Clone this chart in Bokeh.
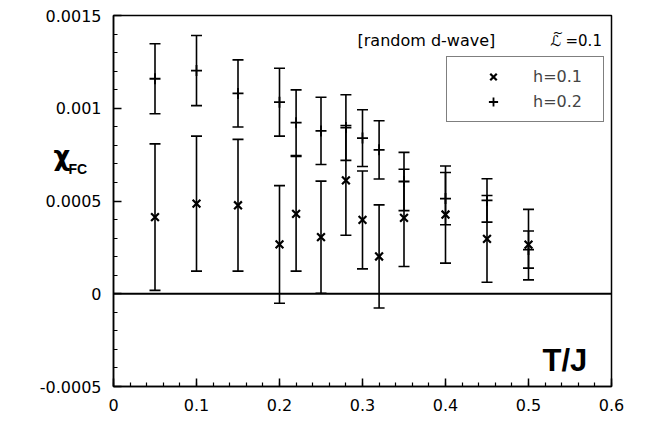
from bokeh.plotting import figure
from bokeh.models import (FixedTicker, Whisker, TeeHead, ColumnDataSource, Label,
                          Legend, LegendItem, Span, Range1d)
from bokeh.embed import file_html
from bokeh.resources import INLINE

# ---- data ----
T = [0.05, 0.1, 0.15, 0.2, 0.22, 0.25, 0.28, 0.3, 0.32, 0.35, 0.4, 0.45, 0.5]
chi_h01 = [0.000413, 0.000486, 0.000477, 0.000266, 0.000431, 0.000305, 0.000611,
           0.000398, 0.000201, 0.000409, 0.000427, 0.000296, 0.000265]
err_h01 = [0.000395, 0.000364, 0.000355, 0.000317, 0.000309, 0.000302, 0.000296,
           0.000264, 0.000278, 0.000262, 0.000262, 0.000234, 0.000190]
chi_h02 = [0.001159, 0.001203, 0.001080, 0.001033, 0.000922, 0.000878, 0.000896,
           0.000839, 0.000776, 0.000605, 0.000513, 0.000503, 0.000238]
err_h02 = [0.000189, 0.000189, 0.000181, 0.000183, 0.000177, 0.000181, 0.000177,
           0.000153, 0.000157, 0.000157, 0.000141, 0.000117, 0.000100]

x_ticks = [0, 0.1, 0.2, 0.3, 0.4, 0.5, 0.6]
x_tick_labels = ["0", "0.1", "0.2", "0.3", "0.4", "0.5", "0.6"]
y_ticks = [-0.0005, 0, 0.0005, 0.001, 0.0015]
y_tick_labels = ["-0.0005", "0", "0.0005", "0.001", "0.0015"]
series_labels = ["h=0.1", "h=0.2"]

FONT = "DejaVu Sans"

p = figure(frame_width=498, frame_height=371, output_backend="svg", toolbar_location=None,
           x_range=Range1d(0, 0.6), y_range=Range1d(-0.0005, 0.0015),
           min_border_left=113, min_border_top=15, min_border_right=18, min_border_bottom=25)
p.grid.visible = False
p.background_fill_color = "white"
p.border_fill_color = "white"
p.outline_line_color = "black"
p.outline_line_width = 1.5

# axes
p.xaxis.ticker = FixedTicker(ticks=x_ticks,
                             minor_ticks=[round(i * 0.02, 4) for i in range(31)])
p.yaxis.ticker = FixedTicker(ticks=y_ticks,
                             minor_ticks=[round(-0.0005 + i * 0.0001, 5) for i in range(21)])
p.xaxis.major_label_overrides = {t: s for t, s in zip(x_ticks, x_tick_labels)}
p.yaxis.major_label_overrides = {t: s for t, s in zip(y_ticks, y_tick_labels)}
for ax in (p.xaxis[0], p.yaxis[0]):
    ax.axis_line_color = "black"
    ax.axis_line_width = 1.5
    ax.major_tick_in = 8
    ax.major_tick_out = 0
    ax.minor_tick_in = 4
    ax.minor_tick_out = 0
    ax.major_tick_line_width = 1.5
    ax.minor_tick_line_width = 1.2
    ax.major_tick_line_color = "black"
    ax.minor_tick_line_color = "black"
    ax.major_label_text_font = FONT
    ax.major_label_text_font_size = "16px"
    ax.major_label_text_color = "black"
p.yaxis.major_label_standoff = 12
p.xaxis.major_label_standoff = 12

# y-axis title chi_FC, as labels living in the left side panel (not clipped)
p.add_layout(Label(x=34, y=231, x_units="screen", y_units="screen",
                   text="χ", text_font=FONT, text_font_size="26px",
                   text_font_style="bold", text_baseline="middle", text_color="black"), "left")
p.add_layout(Label(x=68, y=218, x_units="screen", y_units="screen",
                   text="FC", text_font="Liberation Sans", text_font_size="14px",
                   text_font_style="bold", text_baseline="middle", text_color="black"), "left")

# zero line
p.add_layout(Span(location=0, dimension="width", line_color="black", line_width=2))

src1 = ColumnDataSource(dict(x=T, y=chi_h01,
                             lo=[c - e for c, e in zip(chi_h01, err_h01)],
                             hi=[c + e for c, e in zip(chi_h01, err_h01)]))
src2 = ColumnDataSource(dict(x=T, y=chi_h02,
                             lo=[c - e for c, e in zip(chi_h02, err_h02)],
                             hi=[c + e for c, e in zip(chi_h02, err_h02)]))

for s in (src1, src2):
    p.add_layout(Whisker(source=s, base="x", lower="lo", upper="hi",
                         line_color="black", line_width=1.6,
                         upper_head=TeeHead(size=11, line_color="black", line_width=1.6),
                         lower_head=TeeHead(size=11, line_color="black", line_width=1.6)))

r1 = p.scatter("x", "y", source=src1, marker="x", size=11, line_color="black", line_width=2.2)
r2 = p.scatter("x", "y", source=src2, marker="cross", size=11, line_color="black", line_width=1.8)

legend = Legend(items=[LegendItem(label=series_labels[0], renderers=[r1]),
                       LegendItem(label=series_labels[1], renderers=[r2])],
                location=(333, 264), padding=8, spacing=2,
                glyph_width=76, glyph_height=23, label_standoff=2, label_width=62,
                label_text_font=FONT, label_text_font_size="16px",
                border_line_color="black", border_line_width=1.3,
                background_fill_alpha=1.0, margin=0)
p.add_layout(legend)

# annotation texts (frame-relative screen units)
p.add_layout(Label(x=244, y=346, x_units="screen", y_units="screen",
                   text="[random d-wave]", text_font=FONT, text_font_size="16px",
                   text_baseline="middle", text_color="black"))
p.add_layout(Label(x=437, y=346, x_units="screen", y_units="screen",
                   text="ℒ", text_font=FONT, text_font_size="15px",
                   text_font_style="italic", text_baseline="middle", text_color="black"))
p.add_layout(Label(x=439, y=354, x_units="screen", y_units="screen",
                   text="~", text_font=FONT, text_font_size="13px",
                   text_baseline="middle", text_color="black"))
p.add_layout(Label(x=452, y=346, x_units="screen", y_units="screen",
                   text="=0.1", text_font=FONT, text_font_size="15px",
                   text_baseline="middle", text_color="black"))
p.add_layout(Label(x=429, y=26, x_units="screen", y_units="screen",
                   text="T/J", text_font="Liberation Sans", text_font_size="31px",
                   text_font_style="bold", text_baseline="middle", text_color="black"))

open("out.html", "w").write(file_html(p, INLINE))
